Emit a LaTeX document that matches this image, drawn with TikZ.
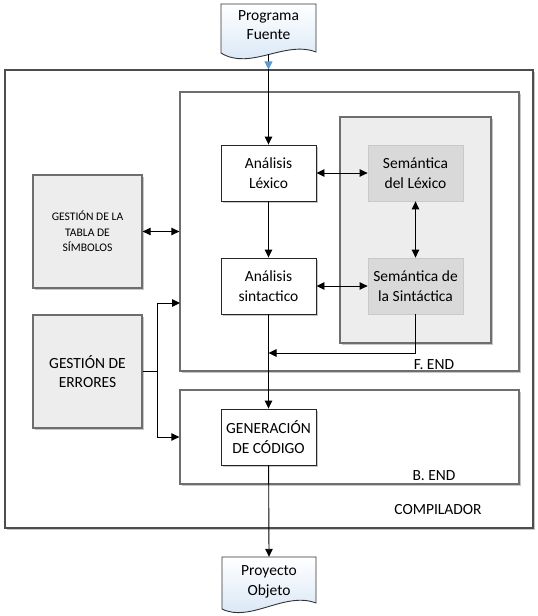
\documentclass[tikz,border=0pt]{standalone}
\usepackage{fontspec}
\setmainfont{Carlito}
\usetikzlibrary{arrows.meta,shadows,calc}
\definecolor{docblue}{HTML}{D3E4F5}
\definecolor{arrowblue}{HTML}{5B9BD5}
\definecolor{lightfill}{HTML}{EDEDED}
\definecolor{semfill}{HTML}{D9D9D9}
\definecolor{semborder}{HTML}{C9C9C9}
\definecolor{framecol}{HTML}{4D4D4D}
\definecolor{greyframe}{HTML}{6E6E6E}
\begin{document}
\begin{tikzpicture}[x=1pt,y=-1pt,
  >={Triangle[length=8pt,width=7.5pt]},
  conn/.style={line width=0.9pt, draw=black},
  txt/.style={font=\fontsize{15.5}{19.5}\selectfont, align=center, text=black},
  smalltxt/.style={font=\fontsize{11.6}{15.5}\selectfont, align=center, text=black},
  shade/.style={drop shadow={shadow xshift=1.5pt, shadow yshift=-1.5pt, opacity=0.22, fill=black}},
  framebox/.style={draw=framecol, line width=1.1pt, fill=white, inner sep=0pt, shade},
  procbox/.style={txt, draw=black!85, line width=0.9pt, fill=white, minimum width=95pt, minimum height=56pt, inner sep=0pt, shade},
  grbox/.style={draw=greyframe, line width=1.3pt, fill=lightfill, minimum width=109pt, minimum height=113pt, inner sep=0pt, shade},
  sembox/.style={txt, draw=semborder, line width=0.8pt, fill=semfill, minimum width=95pt, minimum height=56pt, inner sep=0pt},
  docshape/.style={draw=black!80, line width=0.9pt, top color=white, bottom color=docblue}
]
\useasboundingbox (0,0) rectangle (538,616);

% outer frames
\node[framebox, minimum width=528pt, minimum height=458pt] (comp) at (269,299) {};
\node[framebox, draw=greyframe, line width=1.3pt, minimum width=339pt, minimum height=279pt] (fend) at (349.5,231.5) {};
\node[framebox, draw=greyframe, line width=1.3pt, minimum width=339pt, minimum height=94pt] (bend) at (349.5,437) {};
\node[draw=greyframe, line width=1.3pt, fill=lightfill, minimum width=151pt, minimum height=226pt, inner sep=0pt, shade] (sem) at (415.5,230) {};

% documents
\path[docshape] (221,4) -- (316,4) -- (316,52) .. controls (285,40) and (250,71) .. (221,53) -- cycle;
\node[txt, minimum width=95pt, minimum height=58pt, inner sep=0pt] (pf) at (268.5,25) {Programa\\Fuente};
\path[docshape] (222,557) -- (316,557) -- (316,603) .. controls (285,591) and (250,623) .. (222,609) -- cycle;
\node[txt, minimum width=94pt, minimum height=50pt, inner sep=0pt] (po) at (269,582) {Proyecto\\Objeto};

% process boxes
\node[procbox] (lex) at (268.5,173) {Análisis\\Léxico};
\node[procbox] (sint) at (268.5,286) {Análisis\\sintactico};
\node[procbox] (gen) at (268.5,437) {GENERACIÓN\\DE CÓDIGO};
\node[sembox] (semlex) at (415.5,173) {Semántica\\del Léxico};
\node[sembox] (semsint) at (415.5,286) {Semántica de\\la Sintáctica};
\node[grbox, smalltxt] (tabla) at (87.5,231.5) {GESTIÓN DE LA\\TABLA DE\\SÍMBOLOS};
\node[grbox, txt] (err) at (87.5,371.5) {GESTIÓN DE\\ERRORES};

% labels
\node[txt] (fendlbl) at (434,365) {F. END};
\node[txt] (bendlbl) at (434,476) {B. END};
\node[txt] (complbl) at (438,510) {COMPILADOR};

% helper coordinates
\coordinate (entry) at (pf.south |- comp.north);
\coordinate (ej) at (157,371.5);
\coordinate (eup) at (180,303);
\coordinate (fb) at (268.5,353);

% connectors
\draw[conn, -{Triangle[length=8pt,width=8pt,color=arrowblue]}] (pf.south) -- (entry);
\draw[conn, ->] (entry) -- (lex.north);
\draw[conn, ->] (lex) -- (sint);
\draw[conn, <->] (lex) -- (semlex);
\draw[conn, <->] (sint) -- (semsint);
\draw[conn, <->] (semlex) -- (semsint);
\draw[conn, ->] (semsint.south) |- (fb);
\draw[conn, ->] (sint) -- (gen);
\draw[conn, ->] (gen) -- (po.north);
\draw[conn, <->] (tabla.east) -- (tabla.east -| fend.west);
\draw[conn] (err.east) -- (ej);
\draw[conn, ->] (ej) |- (eup);
\draw[conn, ->] (ej) |- (bend.west);
\end{tikzpicture}
\end{document}
